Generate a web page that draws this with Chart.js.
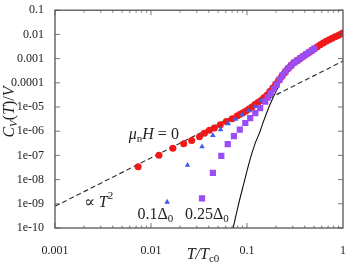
<!DOCTYPE html>
<html>
<head>
<meta charset="utf-8">
<script src="https://cdn.jsdelivr.net/npm/chart.js@4/dist/chart.umd.min.js"></script>
<style>
  html, body { margin: 0; padding: 0; background: #fff; }
</style>
</head>
<body>
<canvas id="cv" width="354" height="265"></canvas>
<script>
// axis ticks
let xTicks = [0.001, 0.01, 0.1, 1];
let xTickLabels = ['0.001', '0.01', '0.1', '1'];
let yTicks = [1e-10, 1e-9, 1e-8, 1e-7, 1e-6, 1e-5, 1e-4, 1e-3, 0.01, 0.1];
let yTickLabels = ['1e-10', '1e-09', '1e-08', '1e-07', '1e-06', '1e-05', '0.0001', '0.001', '0.01', '0.1'];

// mu_n H = 0 (red circles)
let tZero = [0.00735, 0.0121, 0.0169, 0.0219, 0.0265, 0.0320, 0.0360, 0.0406, 0.0457, 0.0527,
  0.0608, 0.0700, 0.0788, 0.0847, 0.0910, 0.0976, 0.1048, 0.1126, 0.1209, 0.1298,
  0.1394, 0.1497, 0.1608, 0.1726, 0.1854, 0.1991, 0.2138, 0.2296, 0.2465, 0.2647,
  0.2842, 0.3051, 0.3277, 0.3519, 0.3778, 0.4057, 0.4357, 0.4678, 0.5023, 0.5395,
  0.5793, 0.6220, 0.6679, 0.7172, 0.7701, 0.8270, 0.8881, 0.9537, 1.0];
let cvZero = [3.4e-8, 1.02e-7, 1.97e-7, 3.03e-7, 4.17e-7, 5.85e-7, 8.3e-7, 1.10e-6, 1.36e-6, 1.84e-6,
  2.49e-6, 3.30e-6, 4.29e-6, 4.99e-6, 5.80e-6, 6.87e-6, 8.20e-6, 1.01e-5, 1.26e-5, 1.53e-5,
  1.84e-5, 2.39e-5, 3.09e-5, 4.34e-5, 6.14e-5, 8.85e-5, 1.28e-4, 1.84e-4, 2.62e-4, 3.73e-4,
  4.94e-4, 6.55e-4, 7.98e-4, 9.72e-4, 1.18e-3, 1.43e-3, 1.73e-3, 2.10e-3, 2.56e-3, 3.09e-3,
  3.73e-3, 4.40e-3, 5.18e-3, 5.97e-3, 6.87e-3, 7.91e-3, 9.10e-3, 1.05e-2, 1.15e-2];

// 0.1 Delta0 (blue triangles)
let tLow = [0.01473, 0.0240, 0.0340, 0.0441, 0.0531, 0.0637, 0.0757, 0.0887, 0.104, 0.122,
  0.139];
let cvLow = [1.18e-9, 3.98e-8, 2.29e-7, 6.67e-7, 1.17e-6, 2.06e-6, 3.18e-6, 4.81e-6, 7.0e-6, 1.05e-5,
  1.84e-5];

// 0.25 Delta0 (purple squares)
let tHigh = [0.0340, 0.0441, 0.0540, 0.0630, 0.0730, 0.0841, 0.0960, 0.108, 0.122, 0.137,
  0.155, 0.1646, 0.1768, 0.1899, 0.2039, 0.2189, 0.2350, 0.2524, 0.2710, 0.2910,
  0.3126, 0.3356, 0.3602, 0.3870, 0.4155, 0.4461, 0.4790, 0.5023];
let cvHigh = [1.68e-9, 1.88e-8, 9.55e-8, 2.94e-7, 6.25e-7, 1.17e-6, 2.18e-6, 3.49e-6, 5.58e-6, 8.93e-6,
  1.68e-5, 2.47e-5, 3.69e-5, 5.48e-5, 8.45e-5, 1.35e-4, 2.07e-4, 2.94e-4, 4.09e-4, 5.43e-4,
  7.0e-4, 8.53e-4, 1.04e-3, 1.26e-3, 1.53e-3, 1.84e-3, 2.26e-3, 2.56e-3];

// exponential (solid black)
let tExp = [0.0684, 0.0807, 0.0924, 0.1066, 0.1208, 0.1371, 0.1486, 0.1686, 0.196, 0.219];
let cvExp = [4.3e-11, 7.9e-10, 6.67e-9, 5.97e-8, 2.94e-7, 1.0e-6, 2.56e-6, 9.55e-6, 3.66e-5, 9.1e-5];

// proportional to T^2 (dashed)
let tSq = [0.001, 1];
let cvSq = [7.9e-10, 7.9e-4];

const serif = "'Liberation Serif', 'DejaVu Serif', serif";

function pts(xs, ys) {
  return xs.map((v, i) => ({ x: v, y: ys[i] }));
}

// draw a row of text pieces centred on (x, y); piece = [text, font, dy]
function rich(ctx, parts, x, y) {
  let w = 0;
  parts.forEach(p => { ctx.font = p[1]; w += ctx.measureText(p[0]).width; });
  let cx = x - w / 2;
  parts.forEach(p => {
    ctx.font = p[1];
    ctx.fillText(p[0], cx, y + (p[2] || 0));
    cx += ctx.measureText(p[0]).width;
  });
}

const framePlugin = {
  id: 'frame',
  afterDraw(chart) {
    const { ctx, chartArea: a, scales } = chart;
    const x = scales.x, y = scales.y;
    ctx.save();
    ctx.strokeStyle = '#555';
    ctx.lineWidth = 1.3;
    ctx.strokeRect(a.left, a.top, a.right - a.left, a.bottom - a.top);

    ctx.lineWidth = 0.8;
    ctx.beginPath();
    for (let e = -3; e < 0; e++) {
      for (let m = 1; m < 10; m++) {
        const px = x.getPixelForValue(m * Math.pow(10, e));
        const len = m === 1 ? 5 : 2.5;
        ctx.moveTo(px, a.bottom); ctx.lineTo(px, a.bottom - len);
        ctx.moveTo(px, a.top); ctx.lineTo(px, a.top + len);
      }
    }
    yTicks.forEach(v => {
      const py = y.getPixelForValue(v);
      ctx.moveTo(a.left, py); ctx.lineTo(a.left + 5, py);
      ctx.moveTo(a.right, py); ctx.lineTo(a.right - 5, py);
    });
    ctx.stroke();

    ctx.fillStyle = '#222';
    ctx.textBaseline = 'middle';
    const it = 'italic 16px ' + serif;
    const itSub = 'italic 11px ' + serif;
    const up = '16px ' + serif;
    const upSub = '11px ' + serif;

    // axis titles
    rich(ctx, [['T', it], ['/', it], ['T', it], ['c0', upSub, 4]], (a.left + a.right) / 2 + 4, 255);
    ctx.save();
    ctx.translate(10, 112);
    ctx.rotate(-Math.PI / 2);
    rich(ctx, [['C', it], ['V', itSub, 4], ['(', up], ['T', it], [')', up], ['/', up], ['V', it]], 0, 0);
    ctx.restore();

    // annotations
    rich(ctx, [['\u03bc', it], ['n', upSub, 4], ['H', it], [' = 0', up]],
      x.getPixelForValue(0.0107), y.getPixelForValue(6.9e-7));
    rich(ctx, [['\u221d ', up], ['T', it], ['2', upSub, -6]],
      x.getPixelForValue(0.00284), y.getPixelForValue(1.15e-9));
    rich(ctx, [['0.1\u0394', up], ['0', upSub, 4]],
      x.getPixelForValue(0.0111), y.getPixelForValue(3.4e-10));
    rich(ctx, [['0.25\u0394', up], ['0', upSub, 4]],
      x.getPixelForValue(0.0382), y.getPixelForValue(3.4e-10));
    ctx.restore();
  }
};

new Chart(document.getElementById('cv'), {
  type: 'scatter',
  data: {
    datasets: [
      {
        label: '0.25Delta0', data: pts(tHigh, cvHigh), order: 0,
        pointStyle: 'rect', pointRadius: 4.4, backgroundColor: '#9a4cf5', borderWidth: 0
      },
      {
        label: '0.1Delta0', data: pts(tLow, cvLow), order: 1,
        pointStyle: 'triangle', pointRadius: 3.2, backgroundColor: '#3d5cf0', borderWidth: 0
      },
      {
        label: 'muH=0', data: pts(tZero, cvZero), order: 2,
        pointStyle: 'circle', pointRadius: 3.5, backgroundColor: '#f01818', borderWidth: 0
      },
      {
        label: 'exp', data: pts(tExp, cvExp), order: 3, showLine: true,
        pointRadius: 0, borderColor: '#111', borderWidth: 1.1, cubicInterpolationMode: 'monotone'
      },
      {
        label: 'T2', data: pts(tSq, cvSq), order: 4, showLine: true,
        pointRadius: 0, borderColor: '#333', borderWidth: 1.2, borderDash: [5, 3]
      }
    ]
  },
  options: {
    responsive: false,
    animation: false,
    layout: { padding: { top: 7, right: 6, left: 0, bottom: 0 } },
    plugins: { legend: { display: false }, tooltip: { enabled: false } },
    scales: {
      x: {
        type: 'logarithmic', min: 0.001, max: 1,
        grid: { display: false }, border: { display: false },
        afterBuildTicks: s => { s.ticks = xTicks.map(v => ({ value: v })); },
        afterFit: s => { s.height = 37; },
        ticks: {
          autoSkip: false, maxRotation: 0, padding: 8, color: '#222',
          font: { family: serif, size: 12 },
          callback: (v) => xTickLabels[xTicks.findIndex(t => Math.abs(t - v) / t < 1e-6)]
        }
      },
      y: {
        type: 'logarithmic', min: 1e-10, max: 0.1,
        grid: { display: false }, border: { display: false },
        afterBuildTicks: s => { s.ticks = yTicks.map(v => ({ value: v })); },
        afterFit: s => { s.width = 55; },
        ticks: {
          autoSkip: false, padding: 3, color: '#222',
          font: { family: serif, size: 12 },
          callback: (v) => yTickLabels[yTicks.findIndex(t => Math.abs(t - v) / t < 1e-6)]
        }
      }
    }
  },
  plugins: [framePlugin]
});
</script>
</body>
</html>
